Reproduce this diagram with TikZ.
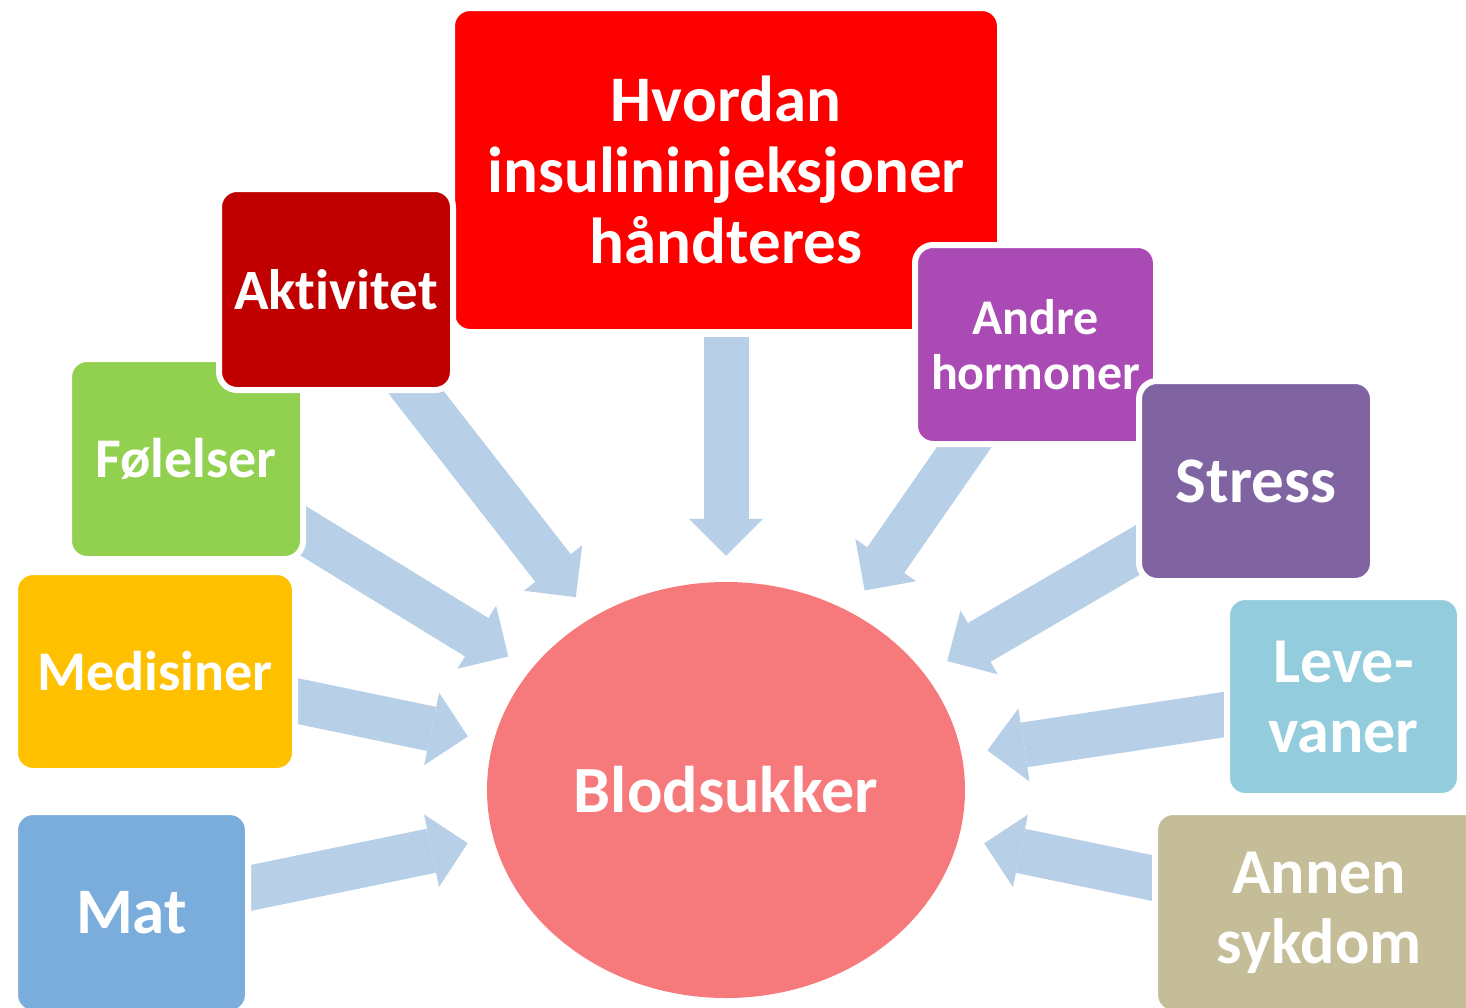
\documentclass[tikz,border=0pt]{standalone}
\usepackage{fontspec}
\setmainfont{Carlito}[RawFeature={-liga;-clig;-dlig;-calt}]
\usetikzlibrary{arrows.meta,shapes.geometric,backgrounds}
\definecolor{insulinred}{HTML}{FF0000}
\definecolor{darkred}{HTML}{C00000}
\definecolor{leafgreen}{HTML}{92D050}
\definecolor{amber}{HTML}{FFC000}
\definecolor{skyblue}{HTML}{7AADDC}
\definecolor{orchid}{HTML}{AA4AB4}
\definecolor{lavender}{HTML}{8064A2}
\definecolor{aqua}{HTML}{93CDDD}
\definecolor{khaki}{HTML}{C4BD97}
\definecolor{salmon}{HTML}{F6797C}
\definecolor{arrowblue}{HTML}{B8CFE8}
\begin{document}
\begin{tikzpicture}[x=1pt, y=-1pt,
	box/.style={rectangle, rounded corners=18pt, draw=white, line width=6pt, text=white, align=center, inner sep=0pt},
	flow/.style={draw=arrowblue, line width=45pt, -{Triangle[width=74pt, length=37pt, line width=0pt]}, shorten >=26pt}]
	\useasboundingbox (0,0) rectangle (1466,1007);
	\clip (0,0) rectangle (1466,1007);
	%boxes
	\node[box, fill=insulinred, minimum width=548pt, minimum height=324pt, font=\fontsize{65}{71}\selectfont\bfseries] (insulin) at (726,170) {Hvordan\\insulininjeksjoner\\håndteres};
	\node[box, fill=leafgreen, minimum width=234pt, minimum height=200pt, font=\fontsize{56}{68}\selectfont\bfseries] (folelser) at (186,459) {Følelser};
	\node[box, fill=darkred, minimum width=234pt, minimum height=201pt, font=\fontsize{57}{68}\selectfont\bfseries] (aktivitet) at (336,289.5) {Aktivitet};
	\node[box, fill=amber, minimum width=280pt, minimum height=199pt, font=\fontsize{56}{68}\selectfont\bfseries] (medisiner) at (155,671.5) {Medisiner};
	\node[box, fill=skyblue, minimum width=233pt, minimum height=201pt, font=\fontsize{65}{70}\selectfont\bfseries] (mat) at (131.5,912.5) {Mat};
	\node[box, fill=orchid, minimum width=241pt, minimum height=199pt, font=\fontsize{50}{55}\selectfont\bfseries] (andre) at (1035.5,344.5) {Andre\\hormoner};
	\node[box, fill=lavender, minimum width=234pt, minimum height=200pt, font=\fontsize{65}{70}\selectfont\bfseries] (stress) at (1256,481) {Stress};
	\node[box, fill=aqua, minimum width=233pt, minimum height=199pt, font=\fontsize{64}{70}\selectfont\bfseries] (levevaner) at (1343.5,696.5) {Leve-\\vaner};
	\node[box, fill=khaki, minimum width=328pt, minimum height=201pt, font=\fontsize{64}{70}\selectfont\bfseries] (annen) at (1319,912.5) {Annen\\sykdom};
	%centre
	\node[ellipse, fill=salmon, minimum width=478pt, minimum height=416pt, inner sep=0pt, text=white, font=\fontsize{66}{70}\selectfont\bfseries] (sugar) at (726,790) {Blodsukker};
	%arrows
	\begin{scope}[on background layer]
		\draw[flow, shorten <=2pt] (insulin.south) -- (sugar);
		\foreach \src in {aktivitet, folelser, medisiner, mat, andre, stress, levevaner, annen}
		\draw[flow] (\src.center) -- (sugar);
	\end{scope}
\end{tikzpicture}
\end{document}
